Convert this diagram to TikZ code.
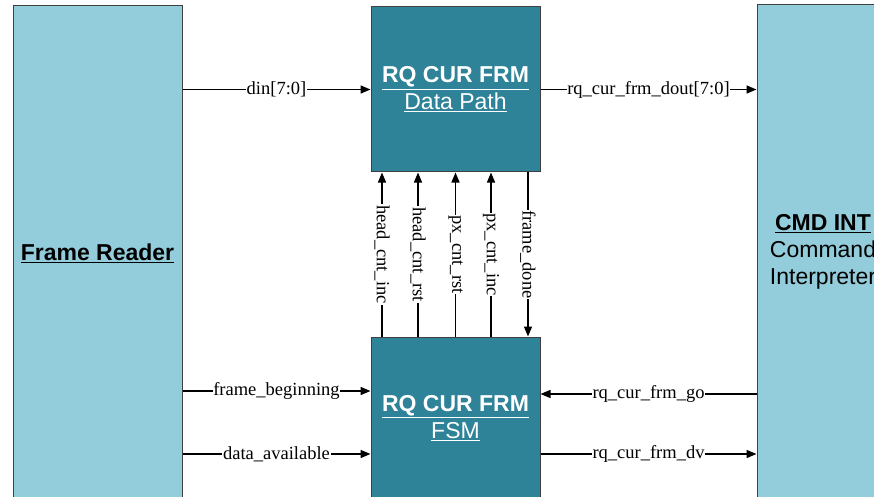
\documentclass[tikz,border=0pt]{standalone}
\usepackage{fontspec}
\setmainfont{Liberation Serif}
\setsansfont{Liberation Sans}
\usetikzlibrary{arrows.meta,positioning}

\definecolor{lightblock}{HTML}{93CDDB}
\definecolor{darkblock}{HTML}{2E8398}

\tikzstyle{block}=[rectangle, draw=black!75, line width=1pt, inner sep=0pt, align=center, font=\sffamily\fontsize{23}{27}\selectfont]
\tikzstyle{outer}=[block, fill=lightblock, text=black]
\tikzstyle{inner}=[block, fill=darkblock, text=white, minimum width=169pt]
\tikzstyle{sig}=[line width=1.5pt, -{Triangle[length=10pt,width=8pt]}]
\tikzstyle{lbl}=[fill=white, inner sep=0.8pt, font=\fontsize{18.5}{20}\selectfont]

\begin{document}
\begin{tikzpicture}[x=1pt,y=1pt]

\clip (0,0) rectangle (874,496);
\fill[white] (0,0) rectangle (874,496);

\node[outer, minimum width=169pt, minimum height=494pt] (reader) at (97.5,243) {\underline{\textbf{Frame Reader}}};
\node[outer, minimum width=132pt, minimum height=494pt] (cmd) at (823,244) {\underline{\textbf{CMD INT}}\\Command\\Interpreter};

\node[inner, minimum height=165pt] (datapath) at (455.5,406.5) {\underline{\textbf{RQ CUR FRM}}\\\underline{Data Path}};
\node[inner, minimum height=162pt, below=164pt of datapath] (fsm) {\underline{\textbf{RQ CUR FRM}}\\\underline{FSM}};

\coordinate (fbegin) at ([yshift=27]fsm.west);
\coordinate (favail) at ([yshift=-36]fsm.west);
\coordinate (fgo) at ([yshift=24]fsm.east);
\coordinate (fdv) at ([yshift=-36]fsm.east);

\draw[sig] (reader.east |- datapath.west) -- node[lbl] {din[7:0]} (datapath.west);
\draw[sig] (datapath.east) -- node[lbl] {rq\_cur\_frm\_dout[7:0]} (cmd.west |- datapath.east);

\foreach \dx/\name in {-73.5/head\_cnt\_inc, -37.5/head\_cnt\_rst, 0/px\_cnt\_rst, 35.5/px\_cnt\_inc} {
  \draw[sig] ([xshift=\dx]fsm.north) -- node[lbl, rotate=-90] {\name} ([xshift=\dx]datapath.south);
}
\draw[sig] ([xshift=72.5]datapath.south) -- node[lbl, rotate=-90] {frame\_done} ([xshift=72.5]fsm.north);

\draw[sig] (reader.east |- fbegin) -- node[lbl] {frame\_beginning} (fbegin);
\draw[sig] (reader.east |- favail) -- node[lbl] {data\_available} (favail);
\draw[sig] (cmd.west |- fgo) -- node[lbl] {rq\_cur\_frm\_go} (fgo);
\draw[sig] (fdv) -- node[lbl] {rq\_cur\_frm\_dv} (cmd.west |- fdv);

\end{tikzpicture}
\end{document}
